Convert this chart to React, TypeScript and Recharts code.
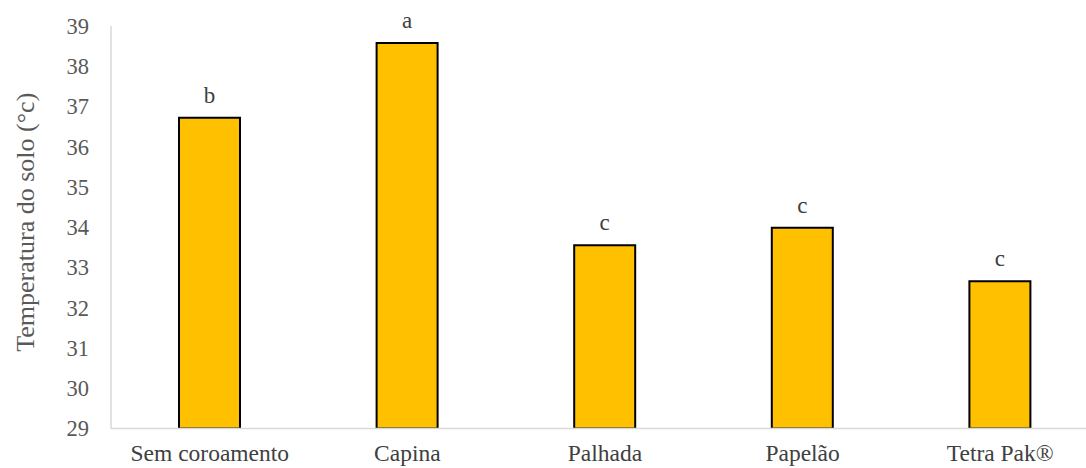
import React from "react";
import { BarChart, Bar, XAxis, YAxis, LabelList, Label } from "recharts";

const categories = ["Sem coroamento", "Capina", "Palhada", "Papelão", "Tetra Pak®"];
const temperatures = [36.72, 38.58, 33.55, 33.99, 32.66];
const letters = ["b", "a", "c", "c", "c"];
const yTicks = [29, 30, 31, 32, 33, 34, 35, 36, 37, 38, 39];
const yTitle = "Temperatura do solo (°c)";

const data = categories.map((c, i) => ({ name: c, temp: temperatures[i], letter: letters[i] }));

const FONT = "Liberation Serif";

const YTitle = (props: any) => {
  const vb = props.viewBox || {};
  const x = (vb.x || 0) + 34;
  const y = (vb.y || 0) + (vb.height || 0) / 2 - 5;
  return (
    <text
      x={x}
      y={y}
      transform={`rotate(-90, ${x}, ${y})`}
      textAnchor="middle"
      style={{ fontFamily: FONT, fontSize: 26, fill: "#595959" }}
    >
      {yTitle}
    </text>
  );
};

export default function App() {
  return (
    <div style={{ position: "absolute", left: 0, top: 0, width: 1086, height: 468, overflow: "hidden", background: "#fff", fontFamily: FONT }}>
      <BarChart
        width={1110}
        height={490}
        data={data}
        margin={{ top: 26, right: 11, left: 0, bottom: 0 }}
        barCategoryGap={0}
        style={{ fontFamily: FONT }}
      >
        <XAxis
          dataKey="name"
          height={61.5}
          tickLine={false}
          tickSize={0}
          tickMargin={16}
          axisLine={{ stroke: "#d9d9d9", strokeWidth: 1.5 }}
          tick={{ fontSize: 23.5, fill: "#404040", style: { fontFamily: FONT } }}
          interval={0}
        />
        <YAxis
          width={111}
          domain={[29, 39]}
          ticks={yTicks}
          allowDataOverflow
          tickLine={false}
          tickSize={0}
          tickMargin={22}
          axisLine={{ stroke: "#d9d9d9", strokeWidth: 1.5 }}
          tick={{ fontSize: 22.5, fill: "#595959", style: { fontFamily: FONT } }}
        >
          <Label content={<YTitle />} />
        </YAxis>
        <Bar dataKey="temp" fill="#FFC000" stroke="#000" strokeWidth={2} barSize={61} isAnimationActive={false}>
          <LabelList
            dataKey="letter"
            position="top"
            offset={15}
            style={{ fontFamily: FONT, fontSize: 23, fill: "#404040" }}
          />
        </Bar>
      </BarChart>
    </div>
  );
}
